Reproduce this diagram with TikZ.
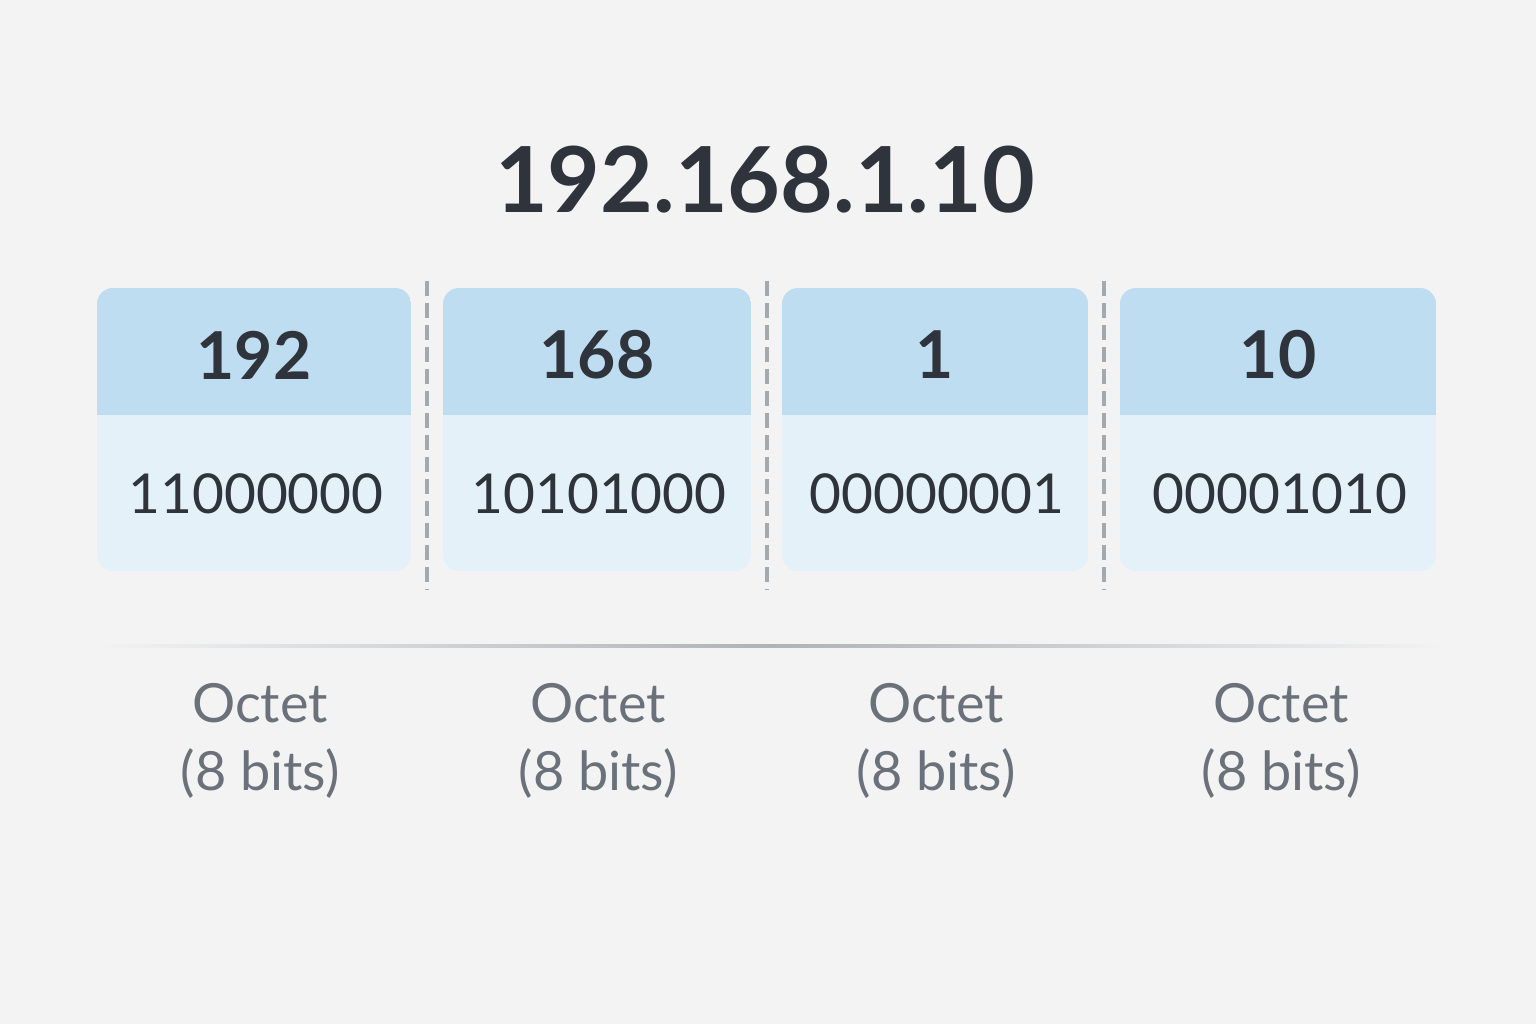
\documentclass[tikz,border=0pt]{standalone}
\usepackage{fontspec}
\setmainfont{Lato}
\usetikzlibrary{positioning}
\definecolor{bg}{HTML}{F3F3F3}
\definecolor{ink}{HTML}{2F333B}
\definecolor{headblue}{HTML}{BEDDF1}
\definecolor{bodyblue}{HTML}{E5F1F8}
\definecolor{sepgray}{HTML}{A4A9AE}
\definecolor{linegray}{HTML}{AEB3B8}
\definecolor{labgray}{HTML}{6B717A}
\tikzset{
  headtxt/.style={font=\fontsize{33}{36}\selectfont\bfseries, text=ink},
  bintxt/.style={font=\fontsize{27.5}{32}\selectfont, text=ink},
  labtxt/.style={font=\fontsize{27}{34}\selectfont, text=labgray, align=center},
  sepline/.style={draw=sepgray, line width=2pt, dash pattern=on 7.5pt off 3.5pt}
}
\begin{document}
\begin{tikzpicture}[x=0.5pt,y=-0.5pt]
\fill[bg] (0,0) rectangle (1536,1024);
\useasboundingbox (0,0) rectangle (1536,1024);
% title
\node[font=\fontsize{45.5}{50}\selectfont\bfseries, text=ink] (title) at (765,180) {192.168.1.10};
% boxes
\foreach \n/\l/\r/\top/\bin in {1/97/411/192/11000000, 2/443/751/168/10101000, 3/782/1088/1/00000001, 4/1120/1436/10/00001010}{
  \begin{scope}
    \clip[rounded corners=8] (\l,288) rectangle (\r,571);
    \fill[bodyblue] (\l,288) rectangle (\r,571);
    \fill[headblue] (\l,288) rectangle (\r,415);
  \end{scope}
  \node[headtxt] (h\n) at ({(\l+\r)/2},355) {\top};
  \node[bintxt] (b\n) at ({(\l+\r)/2+2},494) {\bin};
}
% separators
\coordinate (s1t) at (427,281); \coordinate (s1b) at (427,590);
\coordinate (s2t) at (767,281); \coordinate (s2b) at (767,590);
\coordinate (s3t) at (1104,281); \coordinate (s3b) at (1104,590);
\draw[sepline] (s1t) -- (s1b);
\draw[sepline] (s2t) -- (s2b);
\draw[sepline] (s3t) -- (s3b);
% horizontal rule
\shade[left color=bg, right color=bg, middle color=linegray] (95,644) rectangle (1445,647);
% labels
\node[labtxt] (l1) at (260,741) {Octet\\(8 bits)};
\node[labtxt] (l2) at (598,741) {Octet\\(8 bits)};
\node[labtxt] (l3) at (936,741) {Octet\\(8 bits)};
\node[labtxt] (l4) at (1281,741) {Octet\\(8 bits)};
\end{tikzpicture}
\end{document}
